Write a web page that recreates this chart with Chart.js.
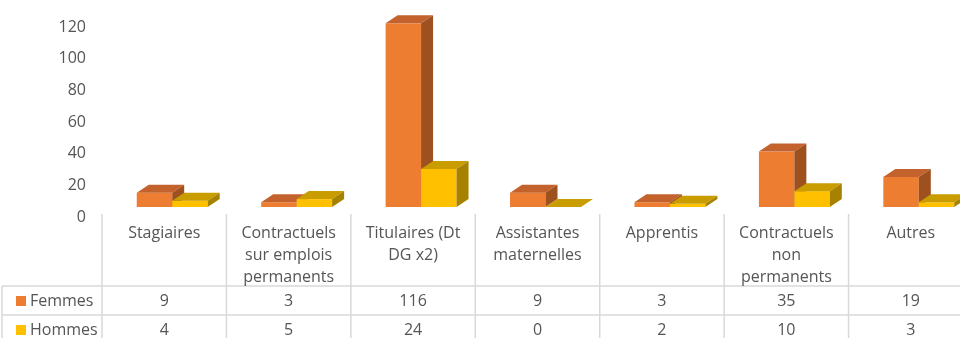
<!DOCTYPE html>
<html lang="fr">
<head>
<meta charset="utf-8">
<script src="https://cdn.jsdelivr.net/npm/chart.js@4/dist/chart.umd.min.js"></script>
<style>
  html, body { margin: 0; padding: 0; background: #fff; overflow: hidden; }
  #wrap { width: 973px; height: 338px; }
</style>
</head>
<body>
<div id="wrap"><canvas id="effectifs" width="973" height="338"></canvas></div>
<script>
'use strict';

// ── Données ────────────────────────────────────────────────
const categories = [
  ['Stagiaires'],
  ['Contractuels', 'sur emplois', 'permanents'],
  ['Titulaires (Dt', 'DG x2)'],
  ['Assistantes', 'maternelles'],
  ['Apprentis'],
  ['Contractuels', 'non', 'permanents'],
  ['Autres']
];
const femmes = [9, 3, 116, 9, 3, 35, 19];
const hommes = [4, 5, 24, 0, 2, 10, 3];
const yTicks = [0, 20, 40, 60, 80, 100, 120];

// ── Style ──────────────────────────────────────────────────
const FONT = "'Open Sans','Noto Sans',sans-serif";
const TEXT = '#555555';
const GRID = '#d9d9d9';
const SERIES = [
  { label: 'Femmes', front: '#ED7D31', top: '#C3622C', side: '#9F501F' },
  { label: 'Hommes', front: '#FFC000', top: '#C99C00', side: '#A68200' }
];
const DEPTH_X = 12, DEPTH_Y = 8, SHIFT = 8;

// 3D columns: front face + top + right side, drawn category by category
const bars3d = {
  id: 'bars3d',
  beforeDatasetsDraw(chart) {
    const ctx = chart.ctx;
    const metas = chart.data.datasets.map((_, i) => chart.getDatasetMeta(i));
    const n = chart.data.labels.length;
    ctx.save();
    for (let j = 0; j < n; j++) {
      metas.forEach((meta, i) => {
        const el = meta.data[j];
        const s = SERIES[i];
        const l = el.x - el.width / 2 + SHIFT;
        const r = el.x + el.width / 2 + SHIFT;
        const t = Math.min(el.y, el.base);
        const b = Math.max(el.y, el.base);

        ctx.fillStyle = s.front;
        ctx.fillRect(l, t, r - l, b - t);

        ctx.fillStyle = s.top;
        ctx.beginPath();
        ctx.moveTo(l, t);
        ctx.lineTo(l + DEPTH_X, t - DEPTH_Y);
        ctx.lineTo(r + DEPTH_X, t - DEPTH_Y);
        ctx.lineTo(r, t);
        ctx.closePath();
        ctx.fill();

        ctx.fillStyle = s.side;
        ctx.beginPath();
        ctx.moveTo(r, t);
        ctx.lineTo(r + DEPTH_X, t - DEPTH_Y);
        ctx.lineTo(r + DEPTH_X, b - DEPTH_Y);
        ctx.lineTo(r, b);
        ctx.closePath();
        ctx.fill();
      });
    }
    ctx.restore();
    return false;
  }
};

// Data table under the plot (labels, legend keys, values)
const dataTable = {
  id: 'dataTable',
  afterDraw(chart) {
    const ctx = chart.ctx;
    const xs = chart.scales.x;
    const n = chart.data.labels.length;
    const colW = (xs.right - xs.left) / n;
    const H = chart.height;
    const headTop = 214, row1 = 286, row2 = 315;
    const rowMid = [301, 330];

    ctx.save();
    ctx.strokeStyle = GRID;
    ctx.lineWidth = 1.5;
    ctx.beginPath();
    for (let j = 0; j <= n; j++) {
      const x = xs.left + j * colW;
      ctx.moveTo(x, headTop);
      ctx.lineTo(x, H);
    }
    ctx.moveTo(2, row1);
    ctx.lineTo(2, H);
    [row1, row2].forEach(y => {
      ctx.moveTo(2, y);
      ctx.lineTo(xs.right, y);
    });
    ctx.stroke();

    ctx.fillStyle = TEXT;
    ctx.font = `16px ${FONT}`;
    ctx.textAlign = 'center';
    ctx.textBaseline = 'middle';
    chart.data.labels.forEach((lines, j) => {
      const cx = xs.getPixelForValue(j);
      lines.forEach((line, k) => ctx.fillText(line, cx, 233 + k * 22));
    });

    chart.data.datasets.forEach((ds, i) => {
      ds.data.forEach((v, j) => {
        ctx.fillStyle = TEXT;
        ctx.textAlign = 'center';
        ctx.fillText(String(v), xs.getPixelForValue(j), rowMid[i]);
      });
      ctx.fillStyle = SERIES[i].front;
      ctx.fillRect(16, rowMid[i] - 5, 10, 10);
      ctx.fillStyle = TEXT;
      ctx.textAlign = 'left';
      ctx.fillText(ds.label, 30, rowMid[i]);
    });
    ctx.restore();
  }
};

new Chart(document.getElementById('effectifs'), {
  type: 'bar',
  data: {
    labels: categories,
    datasets: [
      { label: SERIES[0].label, data: femmes, backgroundColor: SERIES[0].front },
      { label: SERIES[1].label, data: hommes, backgroundColor: SERIES[1].front }
    ]
  },
  options: {
    responsive: false,
    animation: false,
    layout: { padding: { top: 17, right: 0, bottom: 0, left: 0 } },
    datasets: { bar: { categoryPercentage: 0.57, barPercentage: 1.0 } },
    scales: {
      x: {
        grid: { display: false },
        border: { display: false },
        ticks: { display: false },
        afterFit: s => { s.height = 131; }
      },
      y: {
        min: 0,
        max: 120,
        afterBuildTicks: s => { s.ticks = yTicks.map(v => ({ value: v })); },
        grid: { display: false, drawTicks: false },
        border: { display: false },
        ticks: {
          color: TEXT,
          padding: 16,
          labelOffset: 10,
          font: { family: FONT, size: 16 }
        },
        afterFit: s => {
          s.width = 102;
          s.paddingTop = 0;
          s.paddingBottom = 0;
        }
      }
    },
    plugins: {
      legend: { display: false },
      tooltip: { enabled: false }
    }
  },
  plugins: [bars3d, dataTable]
});
</script>
</body>
</html>
